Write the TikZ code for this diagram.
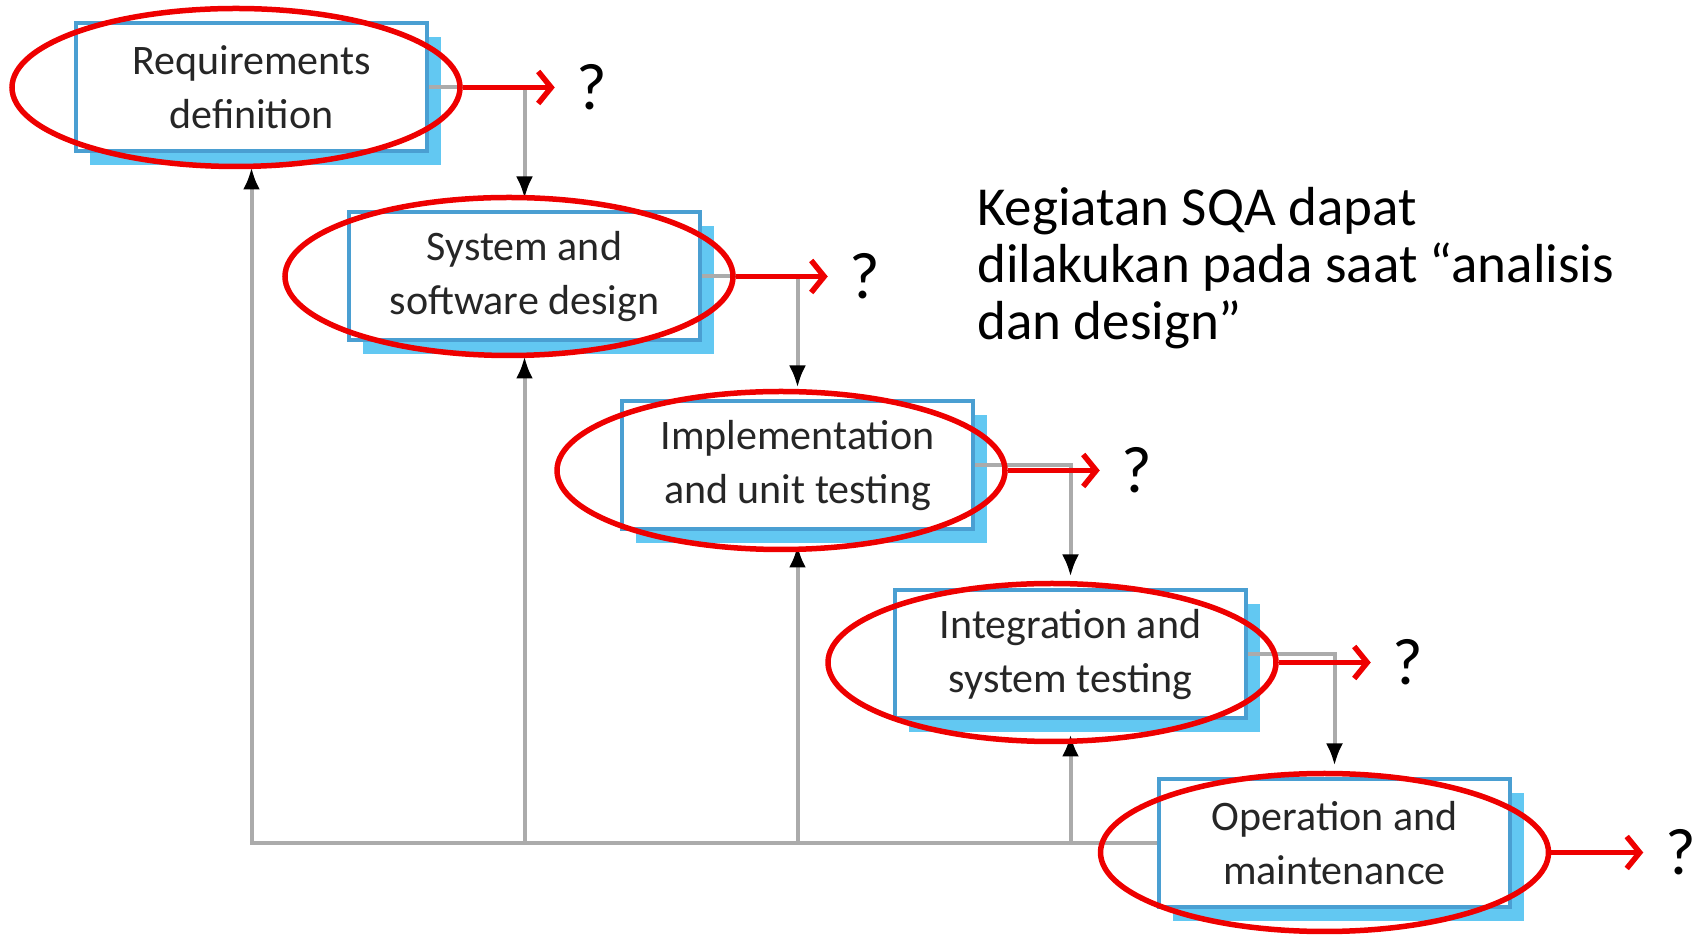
\documentclass[tikz,border=0pt]{standalone}
\usepackage{fontspec}
\setmainfont{Carlito}
\usetikzlibrary{positioning,shapes.geometric,shadows,arrows.meta}
\definecolor{boxblue}{HTML}{4A9FD2}
\definecolor{shadeblue}{HTML}{62C8F2}
\definecolor{linegray}{HTML}{ABABAB}
\definecolor{markred}{HTML}{EE0000}
\tikzset{node distance=189pt and 273pt, on grid,
  stagebox/.style={draw=boxblue, line width=4pt, fill=white,
    minimum width=351pt, minimum height=128pt, align=center,
    text=black!85, font=\fontsize{42}{54}\selectfont,
    copy shadow={shadow xshift=14pt, shadow yshift=-14pt, fill=shadeblue, draw=none}},
  flow/.style={draw=linegray, line width=4pt, -{Latex[color=black, length=22pt, width=17pt]}},
  ring/.style={ellipse, draw=markred, line width=5.5pt, minimum width=448pt,
    minimum height=158pt, inner sep=0pt},
  sqa/.style={draw=markred, line width=5.5pt, -{Straight Barb[length=13pt, width=32pt]}, shorten >=22pt},
  qmark/.style={inner sep=0pt, font=\fontsize{66}{66}\selectfont}}

\begin{document}
\begin{tikzpicture}
  \useasboundingbox (0pt,0pt) rectangle (1696pt,936pt);
  \node (req)    [stagebox] at (251.5pt,848.5pt) {Requirements\\definition};
  \node (design) [stagebox, below right=of req]    {System and\\software design};
  \node (impl)   [stagebox, below right=of design] {Implementation\\and unit testing};
  \node (integ)  [stagebox, below right=of impl]   {Integration and\\system testing};
  \node (ops)    [stagebox, below right=189pt and 264pt of integ] {Operation and\\maintenance};

  \draw[flow] (req.east)    -| ([yshift=12pt]design.north);
  \draw[flow] (design.east) -| ([yshift=12pt]impl.north);
  \draw[flow] (impl.east)   -| ([yshift=12pt]integ.north);
  \draw[flow] (integ.east)  -| ([yshift=12pt]ops.north);
  \draw[flow] (ops.west) -| ([yshift=-14pt]req.south);
  \draw[flow] (ops.west) -| ([yshift=-14pt]design.south);
  \draw[flow] (ops.west) -| ([yshift=-14pt]impl.south);
  \draw[flow] (ops.west) -| ([yshift=-14pt]integ.south);

  \node (reqmark)    [ring, left=15.5pt of req] {};
  \node (designmark) [ring, left=15.5pt of design] {};
  \node (implmark)   [ring, below left=5pt and 16.5pt of impl] {};
  \node (integmark)  [ring, below left=8pt and 18.5pt of integ] {};
  \node (opsmark)    [ring, below left=9pt and 10pt of ops] {};

  \node (q1) [qmark, right=114pt of reqmark.east]    {?};
  \node (q2) [qmark, right=114pt of designmark.east] {?};
  \node (q3) [qmark, right=114pt of implmark.east]   {?};
  \node (q4) [qmark, right=114pt of integmark.east]  {?};
  \node (q5) [qmark, right=114pt of opsmark.east]    {?};
  \draw[sqa] (reqmark.east)    -- (q1.west);
  \draw[sqa] (designmark.east) -- (q2.west);
  \draw[sqa] (implmark.east)   -- (q3.west);
  \draw[sqa] (integmark.east)  -- (q4.west);
  \draw[sqa] (opsmark.east)    -- (q5.west);

  \node (note) [anchor=north west, align=left, inner sep=0pt,
    font=\fontsize{55}{57}\selectfont] at (977pt,749pt)
    {Kegiatan SQA dapat\\dilakukan pada saat “analisis\\dan design”};
\end{tikzpicture}
\end{document}
